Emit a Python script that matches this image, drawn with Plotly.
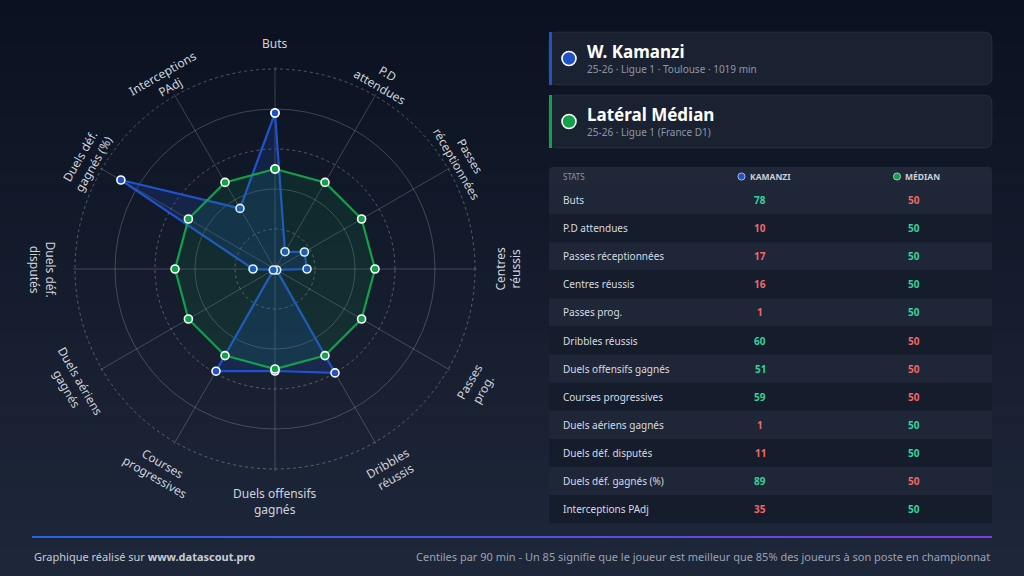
import math
import plotly.graph_objects as go

# --- data ---------------------------------------------------------------
categories = ["Buts", "P.D attendues", "Passes réceptionnées", "Centres réussis",
              "Passes prog.", "Dribbles réussis", "Duels offensifs gagnés",
              "Courses progressives", "Duels aériens gagnés", "Duels déf. disputés",
              "Duels déf. gagnés (%)", "Interceptions PAdj"]
axis_labels = ["Buts", "P.D<br>attendues", "Passes<br>réceptionnées", "Centres<br>réussis",
               "Passes<br>prog.", "Dribbles<br>réussis", "Duels offensifs<br>gagnés",
               "Courses<br>progressives", "Duels aériens<br>gagnés", "Duels déf.<br>disputés",
               "Duels déf.<br>gagnés (%)", "Interceptions<br>PAdj"]
kamanzi = [78, 10, 17, 16, 1, 60, 51, 59, 1, 11, 89, 35]
median = [50, 50, 50, 50, 50, 50, 50, 50, 50, 50, 50, 50]

player_name = "W. Kamanzi"
player_sub = "25-26 · Ligue 1 · Toulouse · 1019 min"
ref_name = "Latéral Médian"
ref_sub = "25-26 · Ligue 1 (France D1)"
col_headers = ["STATS", "KAMANZI", "MÉDIAN"]

W, H = 1024, 576
BLUE = "#2152c9"
GREEN = "#12a04a"
GOOD = "#34d399"
BAD = "#f0686a"


def px(x):
    return x / W


def py(y):
    return 1 - y / H


# radar geometry (pixels); radial range goes a bit past 100 so the 100 ring is drawn
cx, cy, R = 275, 269, 200
RMAX = 101
Rd = R * RMAX / 100
dom_x = [px(cx - Rd), px(cx + Rd)]
dom_y = [py(cy + Rd), py(cy - Rd)]

fig = go.Figure()

# invisible trace so the first polar (solid rings + spokes) is drawn
fig.add_trace(go.Scatterpolar(
    r=median, theta=categories, mode="markers", marker=dict(opacity=0),
    hoverinfo="skip", showlegend=False, subplot="polar"))

theta_closed = categories + [categories[0]]
fig.add_trace(go.Scatterpolar(
    r=kamanzi + [kamanzi[0]], theta=theta_closed, mode="lines+markers",
    line=dict(color=BLUE, width=2.2), fill="toself", fillcolor="rgba(33,82,201,0.2)",
    marker=dict(size=8, color=BLUE, line=dict(color="white", width=1.6)),
    name=player_name, showlegend=False, subplot="polar2"))
fig.add_trace(go.Scatterpolar(
    r=median + [median[0]], theta=theta_closed, mode="lines+markers",
    line=dict(color=GREEN, width=2.2), fill="toself", fillcolor="rgba(18,160,74,0.13)",
    marker=dict(size=8, color=GREEN, line=dict(color="white", width=1.6)),
    name=ref_name, showlegend=False, subplot="polar2"))

grid = "rgba(255,255,255,0.2)"
polar_common = dict(domain=dict(x=dom_x, y=dom_y), bgcolor="rgba(0,0,0,0)")
fig.update_layout(
    polar=dict(
        **polar_common,
        radialaxis=dict(range=[0, RMAX], tickvals=[40, 80], showticklabels=False, ticks="",
                        showline=False, angle=90, gridcolor=grid, gridwidth=1),
        angularaxis=dict(direction="clockwise", rotation=90, showticklabels=False, ticks="",
                         showline=False, gridcolor=grid, gridwidth=1),
    ),
    polar2=dict(
        **polar_common,
        radialaxis=dict(range=[0, RMAX], tickvals=[20, 60, 100], showticklabels=False, ticks="",
                        showline=False, angle=90, gridcolor="rgba(255,255,255,0.28)",
                        griddash="dot"),
        angularaxis=dict(direction="clockwise", rotation=90, showticklabels=False, ticks="",
                         showline=False, showgrid=False, categoryarray=categories),
    ),
)

annotations = []
shapes = []


def note(x, y, text, size, color, xanchor="left", angle=0):
    annotations.append(dict(x=px(x), y=py(y), xref="paper", yref="paper", text=text,
                            showarrow=False, textangle=angle, xanchor=xanchor,
                            yanchor="middle", font=dict(size=size, color=color)))


# axis labels, rotated along the circle; first line sits on radius R0
R0 = 225
for i, lab in enumerate(axis_labels):
    a = i * 360 / len(axis_labels)
    upright = a < 90 or a > 270
    if upright:
        ang = a if a < 90 else a - 360
    else:
        ang = a - 180
    rl = R0
    if "<br>" in lab:
        rl += -7.5 if upright else 7.5
    x = cx + rl * math.sin(math.radians(a))
    y = cy - rl * math.cos(math.radians(a))
    note(x, y, lab, 12, "#cfd4dc", xanchor="center", angle=ang)

# background gradient
top, bot = (11, 17, 32), (30, 39, 58)
n = 40
for k in range(n):
    t = k / (n - 1)
    c = tuple(round(top[j] + (bot[j] - top[j]) * t) for j in range(3))
    shapes.append(dict(type="rect", xref="paper", yref="paper", x0=0, x1=1,
                       y0=py(H * (k + 1) / n + 1), y1=py(H * k / n),
                       fillcolor="rgb(%d,%d,%d)" % c, line=dict(width=0), layer="below"))


def rounded(x0, y0, x1, y1, r):
    rx, ry = r / W, r / H
    a, b, c, d = px(x0), px(x1), py(y0), py(y1)
    return (f"M{a+rx},{c} L{b-rx},{c} Q{b},{c} {b},{c-ry} L{b},{d+ry} Q{b},{d} {b-rx},{d} "
            f"L{a+rx},{d} Q{a},{d} {a},{d+ry} L{a},{c-ry} Q{a},{c} {a+rx},{c} Z")


def rect(x0, y0, x1, y1, color, layer="below"):
    shapes.append(dict(type="rect", xref="paper", yref="paper", x0=px(x0), x1=px(x1),
                       y0=py(y1), y1=py(y0), fillcolor=color, line=dict(width=0), layer=layer))


def dot(xc, yc, r, color, lw):
    shapes.append(dict(type="circle", xref="paper", yref="paper", x0=px(xc - r), x1=px(xc + r),
                       y0=py(yc + r), y1=py(yc - r), fillcolor=color,
                       line=dict(color="white", width=lw)))


# player / reference cards
cards = [(32, 85, BLUE, player_name, player_sub), (95, 148, GREEN, ref_name, ref_sub)]
for y0, y1, col, name, sub in cards:
    shapes.append(dict(type="path", xref="paper", yref="paper", path=rounded(549, y0, 992, y1, 8),
                       fillcolor="#1a2232", line=dict(color="rgba(255,255,255,0.07)", width=1),
                       layer="below"))
    rect(549, y0, 552, y1, col)
    mid = (y0 + y1) / 2
    dot(569, mid, 7, col, 1.6)
    note(585, mid - 7, "<b>%s</b>" % name, 17, "#ffffff")
    note(585, mid + 10.5, sub, 10, "#8e97a6")

# stats table
TX0, TX1 = 549, 992
HY0, HY1 = 167, 186
ROW = 28.1
shapes.append(dict(type="path", xref="paper", yref="paper", path=rounded(TX0, HY0, TX1, HY1 + 2, 4),
                   fillcolor="#1f2738", line=dict(width=0), layer="below"))
note(561, 176.5, col_headers[0], 8, "#8e97a6")
for xd, col, label in [(741.5, BLUE, col_headers[1]), (897, GREEN, col_headers[2])]:
    dot(xd, 176.5, 3.6, col, 0.6)
    note(xd + 6, 176.5, "<b>%s</b>" % label, 8.5, "#c9ced8")

for i, (cat, k, m) in enumerate(zip(categories, kamanzi, median)):
    y0 = HY1 + i * ROW
    rect(TX0, y0, TX1, y0 + ROW, "#1e2637" if i % 2 == 0 else "#151c2b")
    yc = y0 + ROW / 2
    note(561, yc, cat, 10, "#d6dae2")
    note(760, yc, "<b>%d</b>" % k, 10, GOOD if k > m else BAD, xanchor="center")
    note(914, yc, "<b>%d</b>" % m, 10, GOOD if m > k else BAD, xanchor="center")

# footer
n = 60
c0, c1 = (37, 99, 235), (124, 58, 237)
for k in range(n):
    t = k / (n - 1)
    c = tuple(round(c0[j] + (c1[j] - c0[j]) * t) for j in range(3))
    shapes.append(dict(type="line", xref="paper", yref="paper",
                       x0=px(32 + 960 * k / n), x1=px(32 + 960 * (k + 1) / n),
                       y0=py(537), y1=py(537), line=dict(color="rgb(%d,%d,%d)" % c, width=2)))
note(32, 556, "Graphique réalisé sur <b>www.datascout.pro</b>", 11, "#c8ccd4")
note(992, 556, "Centiles par 90 min - Un 85 signifie que le joueur est meilleur que 85% "
               "des joueurs à son poste en championnat", 11, "#9aa3b2", xanchor="right")

fig.update_layout(
    width=W, height=H, margin=dict(l=0, r=0, t=0, b=0),
    paper_bgcolor="#141b2c", font=dict(family="Noto Sans, Open Sans, sans-serif"),
    shapes=shapes, annotations=annotations, showlegend=False,
)

fig.write_html("out.html", config={"displayModeBar": False},
               post_script="document.body.style.margin='0';")
